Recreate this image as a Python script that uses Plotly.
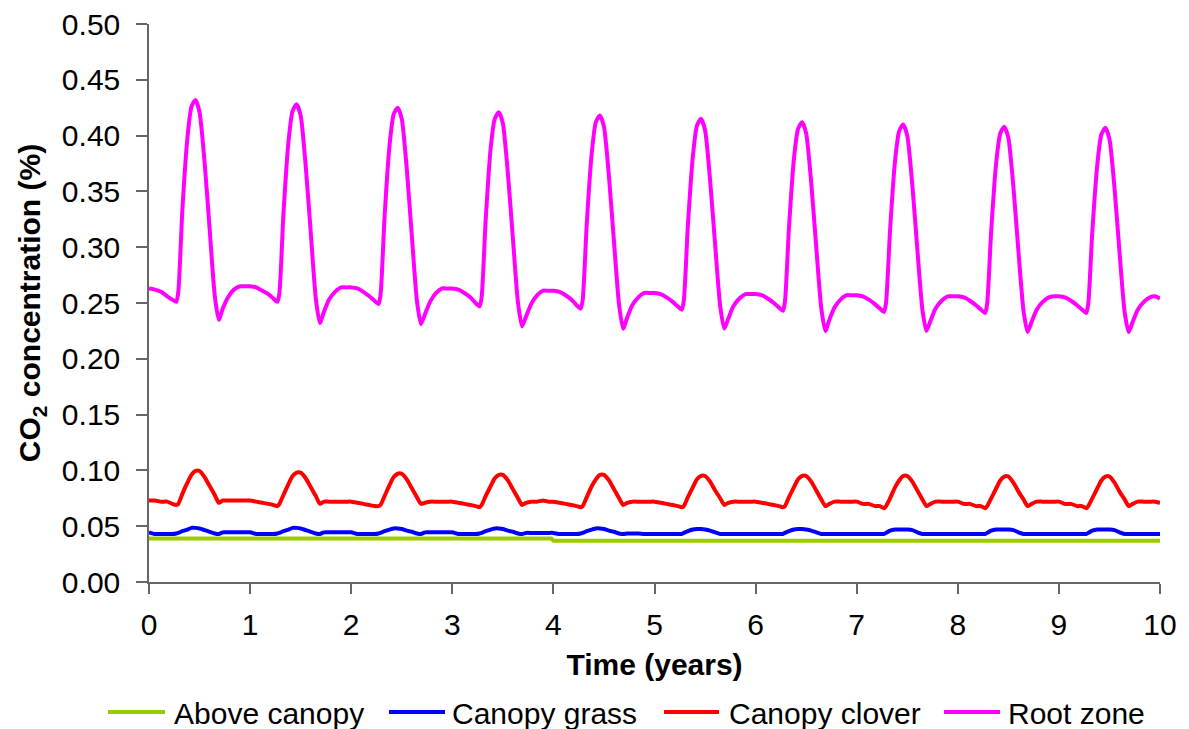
import plotly.graph_objects as go

# Sampling positions within each simulated year (fraction of a year)
PHASE = [0.00, 0.06, 0.12, 0.18, 0.23, 0.27, 0.29, 0.33, 0.38, 0.42, 0.46,
         0.50, 0.55, 0.60, 0.65, 0.69, 0.73, 0.78, 0.84, 0.90, 0.95]
YEARS = [0, 1, 2, 3, 4, 5, 6, 7, 8, 9]

# CO2 concentration (%) in the root zone, one row per year
root_zone_rows = [
    [0.263, 0.262, 0.260, 0.256, 0.253, 0.251, 0.260, 0.333, 0.398, 0.426, 0.432, 0.421, 0.376, 0.316, 0.257, 0.235, 0.245, 0.255, 0.262, 0.265, 0.265],
    [0.265, 0.264, 0.261, 0.258, 0.254, 0.251, 0.259, 0.330, 0.395, 0.422, 0.428, 0.418, 0.373, 0.313, 0.254, 0.232, 0.242, 0.253, 0.260, 0.264, 0.264],
    [0.264, 0.263, 0.260, 0.256, 0.252, 0.249, 0.257, 0.327, 0.392, 0.419, 0.425, 0.415, 0.370, 0.310, 0.252, 0.231, 0.240, 0.251, 0.259, 0.263, 0.263],
    [0.263, 0.262, 0.259, 0.255, 0.250, 0.247, 0.255, 0.324, 0.389, 0.415, 0.421, 0.411, 0.366, 0.307, 0.250, 0.229, 0.238, 0.249, 0.257, 0.261, 0.261],
    [0.261, 0.260, 0.257, 0.253, 0.248, 0.245, 0.253, 0.321, 0.385, 0.412, 0.418, 0.408, 0.363, 0.304, 0.248, 0.227, 0.237, 0.248, 0.255, 0.259, 0.259],
    [0.259, 0.258, 0.255, 0.251, 0.247, 0.244, 0.252, 0.319, 0.382, 0.409, 0.415, 0.405, 0.360, 0.302, 0.247, 0.227, 0.236, 0.247, 0.254, 0.258, 0.258],
    [0.258, 0.257, 0.254, 0.250, 0.246, 0.243, 0.251, 0.317, 0.380, 0.406, 0.412, 0.402, 0.358, 0.300, 0.245, 0.225, 0.235, 0.246, 0.253, 0.257, 0.257],
    [0.257, 0.256, 0.253, 0.249, 0.245, 0.242, 0.250, 0.315, 0.378, 0.404, 0.410, 0.400, 0.356, 0.298, 0.244, 0.225, 0.234, 0.245, 0.252, 0.256, 0.256],
    [0.256, 0.255, 0.252, 0.248, 0.244, 0.241, 0.249, 0.314, 0.376, 0.402, 0.408, 0.398, 0.354, 0.296, 0.243, 0.224, 0.233, 0.244, 0.251, 0.255, 0.256],
    [0.256, 0.255, 0.252, 0.248, 0.244, 0.241, 0.249, 0.313, 0.374, 0.401, 0.407, 0.397, 0.353, 0.295, 0.242, 0.224, 0.233, 0.244, 0.251, 0.255, 0.256],
]
root_zone_end = 0.254

# Canopy clover
clover_rows = [
    [0.073, 0.073, 0.072, 0.072, 0.070, 0.069, 0.070, 0.079, 0.089, 0.096, 0.0995, 0.0995, 0.094, 0.086, 0.078, 0.071, 0.073, 0.073, 0.073, 0.073, 0.073],
    [0.073, 0.072, 0.071, 0.070, 0.069, 0.068, 0.070, 0.078, 0.088, 0.095, 0.098, 0.098, 0.093, 0.085, 0.077, 0.070, 0.072, 0.072, 0.072, 0.072, 0.072],
    [0.072, 0.071, 0.070, 0.069, 0.068, 0.068, 0.069, 0.077, 0.087, 0.094, 0.097, 0.097, 0.092, 0.084, 0.076, 0.070, 0.071, 0.072, 0.072, 0.072, 0.072],
    [0.072, 0.071, 0.070, 0.069, 0.068, 0.067, 0.069, 0.077, 0.086, 0.093, 0.096, 0.096, 0.091, 0.083, 0.075, 0.069, 0.071, 0.072, 0.072, 0.073, 0.072],
    [0.072, 0.071, 0.070, 0.069, 0.068, 0.067, 0.068, 0.076, 0.086, 0.092, 0.096, 0.096, 0.091, 0.083, 0.075, 0.069, 0.071, 0.072, 0.072, 0.072, 0.072],
    [0.072, 0.071, 0.070, 0.069, 0.068, 0.067, 0.068, 0.076, 0.085, 0.092, 0.095, 0.095, 0.090, 0.082, 0.075, 0.069, 0.071, 0.072, 0.072, 0.072, 0.072],
    [0.072, 0.071, 0.070, 0.069, 0.068, 0.067, 0.068, 0.076, 0.085, 0.092, 0.095, 0.095, 0.090, 0.082, 0.074, 0.068, 0.070, 0.072, 0.072, 0.072, 0.072],
    [0.072, 0.070, 0.070, 0.068, 0.068, 0.066, 0.068, 0.075, 0.085, 0.091, 0.095, 0.095, 0.090, 0.082, 0.074, 0.068, 0.070, 0.072, 0.072, 0.072, 0.072],
    [0.072, 0.070, 0.070, 0.068, 0.068, 0.066, 0.068, 0.075, 0.084, 0.091, 0.0945, 0.0945, 0.089, 0.081, 0.074, 0.068, 0.070, 0.072, 0.072, 0.072, 0.072],
    [0.072, 0.070, 0.070, 0.068, 0.068, 0.066, 0.068, 0.075, 0.084, 0.091, 0.0945, 0.0945, 0.089, 0.081, 0.074, 0.068, 0.070, 0.072, 0.072, 0.072, 0.072],
]
clover_end = 0.071

# Canopy grass
grass_rows = [
    [0.0445, 0.0430, 0.0430, 0.0430, 0.0430, 0.0435, 0.0440, 0.0455, 0.0470, 0.0485, 0.0485, 0.0480, 0.0465, 0.0450, 0.0435, 0.0430, 0.0445, 0.0445, 0.0445, 0.0445, 0.0445],
    [0.0445, 0.0430, 0.0430, 0.0430, 0.0430, 0.0435, 0.0440, 0.0455, 0.0470, 0.0485, 0.0485, 0.0480, 0.0465, 0.0450, 0.0435, 0.0430, 0.0445, 0.0445, 0.0445, 0.0445, 0.0445],
    [0.0445, 0.0430, 0.0430, 0.0430, 0.0430, 0.0435, 0.0440, 0.0455, 0.0470, 0.0480, 0.0480, 0.0475, 0.0460, 0.0450, 0.0435, 0.0430, 0.0445, 0.0445, 0.0445, 0.0445, 0.0445],
    [0.0445, 0.0430, 0.0430, 0.0430, 0.0430, 0.0435, 0.0440, 0.0455, 0.0470, 0.0480, 0.0480, 0.0475, 0.0460, 0.0450, 0.0435, 0.0430, 0.0440, 0.0440, 0.0440, 0.0440, 0.0440],
    [0.0440, 0.0430, 0.0430, 0.0430, 0.0430, 0.0435, 0.0440, 0.0455, 0.0470, 0.0480, 0.0480, 0.0475, 0.0460, 0.0450, 0.0435, 0.0430, 0.0435, 0.0435, 0.0435, 0.0430, 0.0430],
    [0.0430, 0.0430, 0.0430, 0.0430, 0.0430, 0.0430, 0.0440, 0.0455, 0.0470, 0.0475, 0.0475, 0.0470, 0.0460, 0.0445, 0.0430, 0.0430, 0.0430, 0.0430, 0.0430, 0.0430, 0.0430],
    [0.0430, 0.0430, 0.0430, 0.0430, 0.0430, 0.0430, 0.0440, 0.0455, 0.0470, 0.0475, 0.0475, 0.0470, 0.0460, 0.0445, 0.0430, 0.0430, 0.0430, 0.0430, 0.0430, 0.0430, 0.0430],
    [0.0430, 0.0430, 0.0430, 0.0430, 0.0430, 0.0430, 0.0440, 0.0460, 0.0470, 0.0470, 0.0470, 0.0470, 0.0465, 0.0445, 0.0430, 0.0430, 0.0430, 0.0430, 0.0430, 0.0430, 0.0430],
    [0.0430, 0.0430, 0.0430, 0.0430, 0.0430, 0.0430, 0.0440, 0.0460, 0.0470, 0.0470, 0.0470, 0.0470, 0.0465, 0.0445, 0.0430, 0.0430, 0.0430, 0.0430, 0.0430, 0.0430, 0.0430],
    [0.0430, 0.0430, 0.0430, 0.0430, 0.0430, 0.0430, 0.0440, 0.0460, 0.0470, 0.0470, 0.0470, 0.0470, 0.0465, 0.0445, 0.0430, 0.0430, 0.0430, 0.0430, 0.0430, 0.0430, 0.0430],
]
grass_end = 0.043

# Above canopy (ambient) concentration
above_time = [0.0, 3.98, 4.00, 10.0]
above_values = [0.039, 0.039, 0.037, 0.037]

SERIES_NAMES = ["Above canopy", "Canopy grass", "Canopy clover", "Root zone"]
COLORS = ["#99cc00", "#0000ff", "#ff0000", "#ff00ff"]

Y_TICKS = [0.00, 0.05, 0.10, 0.15, 0.20, 0.25, 0.30, 0.35, 0.40, 0.45, 0.50]
X_TICKS = [0, 1, 2, 3, 4, 5, 6, 7, 8, 9, 10]

time = [yr + p for yr in YEARS for p in PHASE] + [10.0]


def flatten(rows, end):
    return [v for row in rows for v in row] + [end]


FONT = "Liberation Sans, Arial, sans-serif"
LW = 4

fig = go.Figure()
fig.add_trace(go.Scatter(x=above_time, y=above_values, mode="lines",
                         name=SERIES_NAMES[0], line=dict(color=COLORS[0], width=LW)))
fig.add_trace(go.Scatter(x=time, y=flatten(grass_rows, grass_end), mode="lines",
                         name=SERIES_NAMES[1], line=dict(color=COLORS[1], width=LW, shape="spline", smoothing=0.5)))
fig.add_trace(go.Scatter(x=time, y=flatten(clover_rows, clover_end), mode="lines",
                         name=SERIES_NAMES[2], line=dict(color=COLORS[2], width=LW, shape="spline", smoothing=0.5)))
fig.add_trace(go.Scatter(x=time, y=flatten(root_zone_rows, root_zone_end), mode="lines",
                         name=SERIES_NAMES[3], line=dict(color=COLORS[3], width=LW, shape="spline", smoothing=0.6)))

# Legend row below the axis title: short line samples with labels
L, R, T, B = 149, 29, 24, 147
W, H = 1189, 729
pw, ph = W - L - R, H - T - B


def px_x(px):
    return (px - L) / pw


def px_y(py):
    return (H - B - py) / ph


legend_items = [(108, 165, 172), (389, 445, 450), (664, 719, 727), (944, 1000, 1006)]
for (x0, x1, xt), name, color in zip(legend_items, SERIES_NAMES, COLORS):
    fig.add_shape(type="line", xref="paper", yref="paper",
                  x0=px_x(x0), x1=px_x(x1), y0=px_y(712), y1=px_y(712),
                  line=dict(color=color, width=4))
    fig.add_annotation(xref="paper", yref="paper", x=px_x(xt), y=px_y(713),
                       xanchor="left", yanchor="middle", text=name, showarrow=False,
                       font=dict(family=FONT, size=30, color="#000000"))

fig.update_layout(
    width=W, height=H,
    margin=dict(l=L, r=R, t=T, b=B, autoexpand=False),
    paper_bgcolor="#ffffff", plot_bgcolor="#ffffff",
    showlegend=False,
    font=dict(family=FONT, size=30, color="#000000"),
)
fig.update_xaxes(
    range=[0, 10], tickvals=X_TICKS, ticktext=[str(v) for v in X_TICKS],
    showgrid=False, zeroline=False, showline=True, linecolor="#666666", linewidth=1.5,
    ticks="outside", ticklen=10, tickwidth=1.5, tickcolor="#666666",
    ticklabelstandoff=5,
    tickfont=dict(family=FONT, size=30, color="#000000"),
    title=dict(text="<b>Time (years)</b>", font=dict(family=FONT, size=30, color="#000000"), standoff=14),
    automargin=False,
)
fig.update_yaxes(
    range=[0, 0.5], tickvals=Y_TICKS, ticktext=[f"{v:.2f}" for v in Y_TICKS],
    showgrid=False, zeroline=False, showline=True, linecolor="#666666", linewidth=1.5,
    ticks="outside", ticklen=11, tickwidth=1.5, tickcolor="#666666",
    ticklabelstandoff=10,
    tickfont=dict(family=FONT, size=30, color="#000000"),
    title=dict(text="<b>CO<sub>2</sub> concentration (%)</b>", font=dict(family=FONT, size=30, color="#000000"), standoff=12),
    automargin=False,
)

fig.write_html("out.html")
